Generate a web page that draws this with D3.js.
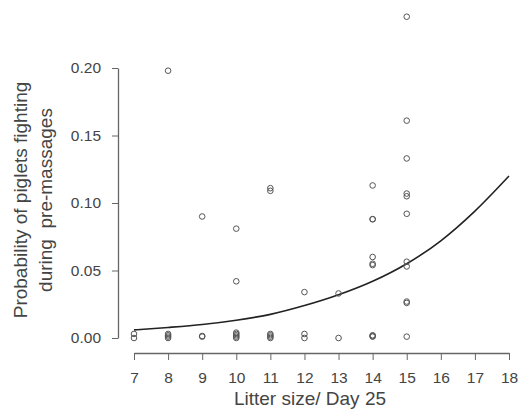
<!DOCTYPE html>
<html lang="en">
<head>
    <meta charset="UTF-8">
    <title>Piglet fighting vs litter size</title>
    <script src="https://cdn.jsdelivr.net/npm/d3@7"></script>
    <style>
        body { margin: 0; background: #fff; }
        #chart text { font-family: "Liberation Sans", Arial, sans-serif; fill: #444; }
        .axis path, .axis line { stroke: #666; }
    </style>
</head>
<body>
<div id="chart"></div>
<script>
    var width = 519, height = 419;

    // observed litters (x = litter size at day 25, y = probability of fighting)
    var litterSize = [7, 7,
        8, 8, 8, 8, 8,
        9, 9, 9,
        10, 10, 10, 10, 10, 10, 10,
        11, 11, 11, 11, 11, 11,
        12, 12, 12,
        13, 13,
        14, 14, 14, 14, 14, 14, 14, 14, 14,
        15, 15, 15, 15, 15, 15, 15, 15, 15, 15, 15];
    var probability = [0.000, 0.003,
        0.198, 0.000, 0.001, 0.002, 0.003,
        0.090, 0.001, 0.0015,
        0.081, 0.042, 0.000, 0.001, 0.002, 0.003, 0.004,
        0.109, 0.111, 0.000, 0.001, 0.002, 0.003,
        0.034, 0.000, 0.003,
        0.033, 0.000,
        0.113, 0.088, 0.088, 0.060, 0.055, 0.054, 0.001, 0.002, 0.0015,
        0.238, 0.161, 0.133, 0.107, 0.105, 0.092, 0.0565, 0.053, 0.027, 0.026, 0.001];

    // fitted curve
    var curveX = [7, 8, 9, 10, 11, 12, 13, 14, 15, 16, 17, 18];
    var curveY = [0.006, 0.0078, 0.010, 0.0132, 0.0175, 0.024, 0.032, 0.042, 0.055, 0.072, 0.094, 0.120];

    var xTicks = [7, 8, 9, 10, 11, 12, 13, 14, 15, 16, 17, 18];
    var yTicks = [0, 0.05, 0.10, 0.15, 0.20];

    var svg = d3.select("#chart").append("svg")
        .attr("width", width).attr("height", height);

    var x = d3.scaleLinear().domain([7, 18]).range([134, 509]);
    var y = d3.scaleLinear().domain([0, 0.20]).range([338, 68]);

    // R style detached axes
    var yAxis = svg.append("g").attr("class", "axis")
        .attr("transform", "translate(118,0)")
        .call(d3.axisLeft(y).tickValues(yTicks).tickFormat(d3.format(".2f"))
            .tickSize(6).tickSizeOuter(0).tickPadding(11));
    var xAxis = svg.append("g").attr("class", "axis")
        .attr("transform", "translate(0,353)")
        .call(d3.axisBottom(x).tickValues(xTicks)
            .tickSize(7).tickSizeOuter(0).tickPadding(12));
    svg.selectAll(".axis text").style("font-size", "15.5px").style("fill", "#444");
    svg.selectAll(".axis path").attr("stroke-width", 1.3);

    svg.append("text")
        .attr("x", 310).attr("y", 405)
        .attr("text-anchor", "middle")
        .style("font-size", "19px")
        .text("Litter size/ Day 25");

    var ylab = svg.append("g").attr("transform", "translate(0,200) rotate(-90)");
    ylab.append("text")
        .attr("x", 0).attr("y", 27)
        .attr("text-anchor", "middle")
        .style("font-size", "19px")
        .text("Probability of piglets fighting");
    ylab.append("text")
        .attr("x", 0).attr("y", 52)
        .attr("text-anchor", "middle")
        .style("font-size", "19px")
        .style("white-space", "pre")
        .text("during  pre-massages");

    var line = d3.line()
        .x(function (d, i) { return x(curveX[i]); })
        .y(function (d) { return y(d); })
        .curve(d3.curveMonotoneX);
    svg.append("path")
        .datum(curveY)
        .attr("d", line)
        .attr("fill", "none")
        .attr("stroke", "#222")
        .attr("stroke-width", 1.6);

    svg.selectAll("circle.pt")
        .data(probability)
        .enter()
        .append("circle")
        .attr("class", "pt")
        .attr("cx", function (d, i) { return x(litterSize[i]); })
        .attr("cy", function (d) { return y(d); })
        .attr("r", 2.8)
        .attr("fill", "none")
        .attr("stroke", "#555")
        .attr("stroke-width", 1);
</script>
</body>
</html>
